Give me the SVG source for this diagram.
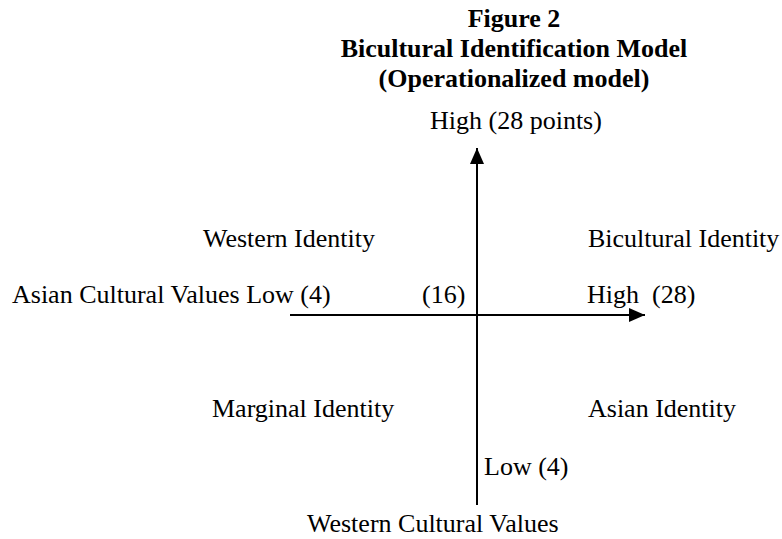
<svg xmlns="http://www.w3.org/2000/svg" width="782" height="539" viewBox="0 0 782 539">
<style>
text{font-family:"Liberation Serif","Times New Roman",serif;font-size:26px;fill:#000}
.t{font-weight:bold;text-anchor:middle}
.ax{stroke:#000;stroke-width:2;fill:none}
</style>
<defs>
<marker id="ah" markerWidth="16" markerHeight="14" refX="16" refY="7" orient="auto" markerUnits="userSpaceOnUse">
<path d="M0,0 L16,7 L0,14 Z" fill="#000"/>
</marker>
</defs>
<rect width="782" height="539" fill="#fff"/>
<g id="title">
<text class="t" x="514" y="27">Figure 2</text>
<text class="t" x="514" y="57">Bicultural Identification Model</text>
<text class="t" x="514" y="87">(Operationalized model)</text>
</g>
<g id="connectors">
<line class="ax" x1="290" y1="315" x2="645" y2="315" marker-end="url(#ah)"/>
<line class="ax" x1="477" y1="505" x2="477" y2="148" marker-end="url(#ah)"/>
</g>
<g id="high-y"><text x="430" y="129">High (28 points)</text></g>
<g id="western-identity"><text x="203" y="247">Western Identity</text></g>
<g id="bicultural-identity"><text x="588" y="247">Bicultural Identity</text></g>
<g id="asian-values"><text x="12" y="303">Asian Cultural Values Low (4)</text></g>
<g id="mid"><text x="422" y="303">(16)</text></g>
<g id="high-x"><text x="587" y="303" xml:space="preserve">High  (28)</text></g>
<g id="marginal-identity"><text x="212" y="417">Marginal Identity</text></g>
<g id="asian-identity"><text x="588" y="417">Asian Identity</text></g>
<g id="low-y"><text x="484" y="475">Low (4)</text></g>
<g id="western-values"><text x="307" y="532">Western Cultural Values</text></g>
</svg>
